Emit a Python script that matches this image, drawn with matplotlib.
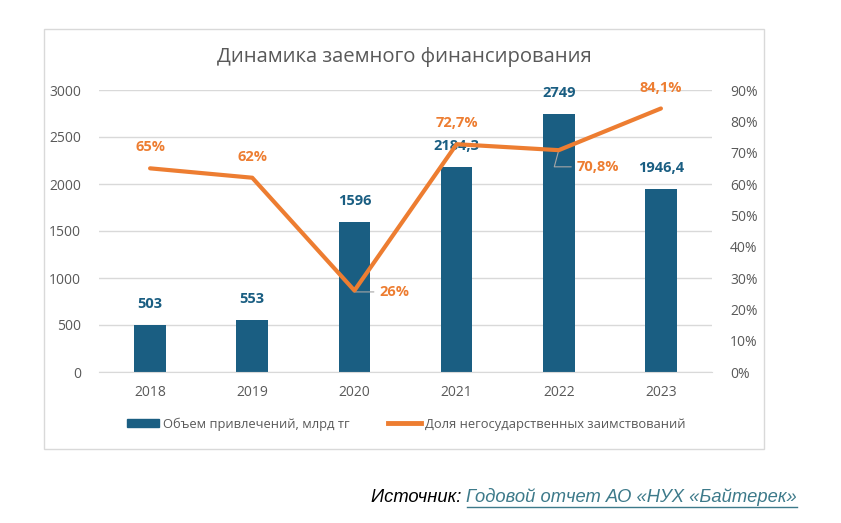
import matplotlib
matplotlib.use('Agg')
import matplotlib.pyplot as plt
from matplotlib.patches import Rectangle
from matplotlib.lines import Line2D

years = ['2018', '2019', '2020', '2021', '2022', '2023']
volume = [503, 553, 1596, 2184.3, 2749, 1946.4]
share = [65, 62, 26, 72.7, 70.8, 84.1]
volume_labels = ['503', '553', '1596', '2184,3', '2749', '1946,4']
share_labels = ['65%', '62%', '26%', '72,7%', '70,8%', '84,1%']

BAR = '#1a5e82'
LINE = '#ed7d31'
GRID = '#d9d9d9'
TXT = '#595959'

plt.rcParams['font.family'] = ['Open Sans', 'DejaVu Sans']

fig = plt.figure(figsize=(8.41, 5.23), dpi=100)
fig.patches.append(Rectangle((44 / 841, 1 - 449 / 523), 720 / 841, 420 / 523,
                             transform=fig.transFigure, fill=False,
                             edgecolor=GRID, linewidth=1))

ax = fig.add_axes([99 / 841, 1 - 372 / 523, 613 / 841, 282 / 523])
x = list(range(len(years)))
ax.bar(x, volume, width=0.31, color=BAR, zorder=2)
ax.set_xlim(-0.5, len(years) - 0.5)
ax.set_ylim(0, 3000)
ax.set_yticks(range(0, 3001, 500))
ax.grid(axis='y', color=GRID, linewidth=1, zorder=0)
ax.set_xticks(x)
ax.set_xticklabels(years)
for s in ax.spines.values():
    s.set_visible(False)
ax.spines['bottom'].set_visible(True)
ax.spines['bottom'].set_color(GRID)
ax.tick_params(length=0, colors=TXT, labelsize=10)
ax.tick_params(axis='y', pad=13)
ax.tick_params(axis='x', pad=9)

for xi, v, lab in zip(x, volume, volume_labels):
    ax.annotate(lab, (xi, v), xytext=(0, 10), textcoords='offset points',
                ha='center', va='bottom', color=BAR, fontsize=10.5,
                fontweight='bold', zorder=5)

ax2 = ax.twinx()
ax2.plot(x, share, color=LINE, linewidth=3, zorder=4, solid_capstyle='round')
ax2.set_ylim(0, 90)
ax2.set_yticks(range(0, 91, 10))
ax2.set_yticklabels([f'{t}%' for t in range(0, 91, 10)])
for s in ax2.spines.values():
    s.set_visible(False)
ax2.tick_params(length=0, colors=TXT, labelsize=10, pad=13)

offsets = [(0, 10), (0, 10), (18, -1), (0, 10), (13, -12), (0, 10)]
for xi, v, lab, off in zip(x, share, share_labels, offsets):
    if off[0] == 0:
        ax2.annotate(lab, (xi, v), xytext=off, textcoords='offset points',
                     ha='center', va='bottom', color=LINE, fontsize=10.5,
                     fontweight='bold')
    else:
        ax2.annotate(lab, (xi, v), xytext=off, textcoords='offset points',
                     ha='left', va='center', color=LINE, fontsize=10.5,
                     fontweight='bold',
                     arrowprops=dict(arrowstyle='-', color='#a6a6a6',
                                     linewidth=0.8, shrinkA=2, shrinkB=0,
                                     connectionstyle='angle,angleA=0,angleB=75,rad=0'))

fig.text(404 / 841, 1 - 57 / 523, 'Динамика заемного финансирования',
         ha='center', va='center', fontsize=14.6, color=TXT)

handles = [Rectangle((0, 0), 1, 0.55, color=BAR),
           Line2D([0], [0], color=LINE, linewidth=3.5)]
fig.legend(handles, ['Объем привлечений, млрд тг', 'Доля негосударственных заимствований'],
           loc='center', bbox_to_anchor=(406 / 841, 1 - 424 / 523), ncol=2,
           frameon=False, fontsize=9.3, labelcolor=TXT, handlelength=2.5,
           handleheight=0.6, handletextpad=0.3, columnspacing=3)

t1 = fig.text(371 / 841, 1 - 497 / 523, 'Источник: ', ha='left', va='center',
              fontsize=13.2, style='italic', family='Liberation Sans', color='black')
fig.canvas.draw()
bb = t1.get_window_extent()
t2 = fig.text(bb.x1 / 841, 1 - 497 / 523, 'Годовой отчет АО «НУХ «Байтерек»',
              ha='left', va='center', fontsize=13.2, style='italic',
              family='Liberation Sans', color='#3d7a8a')
fig.canvas.draw()
bb2 = t2.get_window_extent()
fig.add_artist(Line2D([bb2.x0 / 841, bb2.x1 / 841], [1 - 507 / 523, 1 - 507 / 523],
                      color='#3d7a8a', linewidth=1, transform=fig.transFigure))

fig.savefig('out.png', dpi=100)
